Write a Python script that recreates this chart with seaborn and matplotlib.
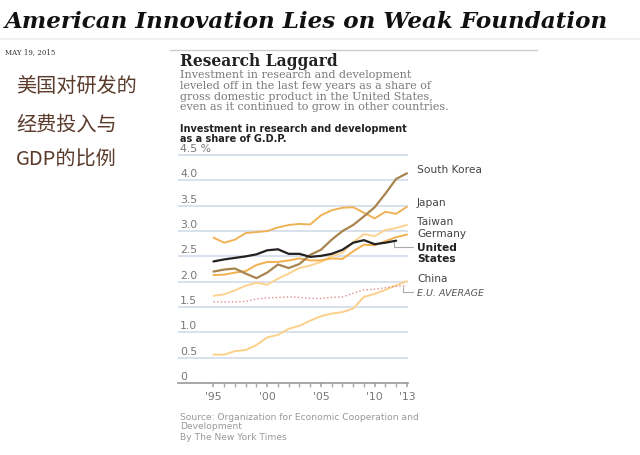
import numpy as np
import pandas as pd
import matplotlib
matplotlib.use("Agg")
import matplotlib.pyplot as plt
import seaborn as sns

sns.set_theme(style="white")
plt.rcParams['font.family'] = ['DejaVu Sans']

# Data: R&D investment as a share of GDP (%)
years = list(range(1995, 2014))
south_korea = [2.20, 2.24, 2.26, 2.16, 2.07, 2.18, 2.34, 2.27, 2.35, 2.53, 2.63,
               2.83, 3.00, 3.12, 3.29, 3.47, 3.74, 4.03, 4.14]
japan = [2.87, 2.77, 2.83, 2.96, 2.98, 3.00, 3.07, 3.12, 3.14, 3.13, 3.31,
         3.41, 3.46, 3.47, 3.36, 3.25, 3.38, 3.34, 3.48]
taiwan = [1.72, 1.75, 1.83, 1.92, 1.98, 1.94, 2.06, 2.16, 2.27, 2.32, 2.39,
          2.51, 2.57, 2.78, 2.94, 2.90, 3.02, 3.06, 3.12]
germany = [2.13, 2.14, 2.18, 2.21, 2.33, 2.39, 2.39, 2.42, 2.46, 2.42, 2.42,
           2.46, 2.45, 2.60, 2.73, 2.72, 2.80, 2.88, 2.93]
united_states = [2.40, 2.44, 2.47, 2.50, 2.54, 2.62, 2.64, 2.55, 2.55, 2.49, 2.51,
                 2.55, 2.63, 2.77, 2.82, 2.74, 2.77, 2.81, np.nan]
china = [0.56, 0.56, 0.63, 0.65, 0.75, 0.90, 0.95, 1.07, 1.13, 1.23, 1.32,
         1.37, 1.40, 1.47, 1.70, 1.76, 1.84, 1.93, 2.01]
eu_average = [1.60, 1.60, 1.60, 1.61, 1.66, 1.68, 1.69, 1.70, 1.69, 1.67, 1.67,
              1.69, 1.70, 1.77, 1.84, 1.85, 1.88, 1.91, 1.92]

y_ticks = [0, 0.5, 1.0, 1.5, 2.0, 2.5, 3.0, 3.5, 4.0, 4.5]
y_tick_labels = ['0', '0.5', '1.0', '1.5', '2.0', '2.5', '3.0', '3.5', '4.0', '4.5 %']
x_ticks = [1995, 2000, 2005, 2010, 2013]
x_tick_labels = ["'95", "'00", "'05", "'10", "'13"]

series = {
    'China': (china, '#fdd08a', '-', 1.4),
    'E.U. AVERAGE': (eu_average, '#e08a90', ':', 1.0),
    'Taiwan': (taiwan, '#fdd28f', '-', 1.4),
    'Germany': (germany, '#f2b04e', '-', 1.4),
    'Japan': (japan, '#f0b256', '-', 1.4),
    'South Korea': (south_korea, '#a8844e', '-', 1.6),
    'United States': (united_states, '#222222', '-', 1.6),
}

W, H = 640, 456
fig = plt.figure(figsize=(6.4, 4.56), dpi=100)


def fy(y):
    return 1 - y / H


def fx(x):
    return x / W


# Page header
fig.text(fx(5), fy(22), 'American Innovation Lies on Weak Foundation',
         family='DejaVu Serif', weight='bold', style='italic', fontsize=16.6,
         va='center', color='#111111')
fig.add_artist(plt.Line2D([0, 1], [fy(40), fy(40)], color='#eeeeee', lw=1.2))
fig.text(fx(5), fy(52), 'MAY 19, 2015', family='DejaVu Serif', fontsize=5,
         va='center', color='#333333')
fig.add_artist(plt.Line2D([fx(170), fx(537)], [fy(51), fy(51)], color='#cccccc', lw=1))

# Chinese caption
cn_kw = dict(family=['Noto Sans CJK SC', 'DejaVu Sans'], fontsize=14.5,
             va='center', color='#5a3b2c')
fig.text(fx(16), fy(86), '美国对研发的', **cn_kw)
fig.text(fx(16), fy(125), '经费投入与', **cn_kw)
fig.text(fx(16), fy(160), 'GDP的比例', **cn_kw)

# Graphic heading
fig.text(fx(180), fy(61), 'Research Laggard', family='DejaVu Serif', weight='bold',
         fontsize=11.2, va='center', color='#222222')
sub = ['Investment in research and development',
       'leveled off in the last few years as a share of',
       'gross domestic product in the United States,',
       'even as it continued to grow in other countries.']
for i, line in enumerate(sub):
    fig.text(fx(180), fy(75 + i * 10.8), line, family='DejaVu Serif', fontsize=8.0,
             va='center', color='#7a7a7a')
fig.text(fx(180), fy(129), 'Investment in research and development',
         weight='bold', fontsize=7.0, va='center', color='#222222')
fig.text(fx(180), fy(139.5), 'as a share of G.D.P.',
         weight='bold', fontsize=7.0, va='center', color='#222222')

# Chart
ax = fig.add_axes([fx(178), fy(384), fx(408) - fx(178), (384 - 150) / H])
for name, (vals, color, ls, lw) in series.items():
    df = pd.DataFrame({'year': years, 'value': vals}).dropna()
    sns.lineplot(data=df, x='year', y='value', ax=ax, color=color,
                 linestyle=ls, linewidth=lw)

ax.set_xlim(1991.7, 2013.1)
ax.set_ylim(0, 4.62)
for t, lab in zip(y_ticks, y_tick_labels):
    if t > 0:
        ax.axhline(t, color='#d6dfea', lw=1.3, zorder=0)
    ax.text(1991.9, t + 0.04, lab, fontsize=7.8, color='#777777', va='bottom',
            ha='left')
ax.set_yticks([])
for s in ['top', 'right', 'left']:
    ax.spines[s].set_visible(False)
ax.spines['bottom'].set_color('#999999')
ax.spines['bottom'].set_linewidth(1.2)
ax.set_xticks(x_ticks)
ax.set_xticklabels(x_tick_labels, fontsize=7.8, color='#777777')
ax.set_xticks(years, minor=True)
ax.tick_params(axis='x', which='both', direction='out', length=3, color='#aaaaaa',
               bottom=True, pad=3)
ax.set_xlabel('')
ax.set_ylabel('')

# Series labels
lab_kw = dict(fontsize=7.7, color='#444444', va='center')
fig.text(fx(417), fy(170), 'South Korea', **lab_kw)
fig.text(fx(417), fy(203), 'Japan', **lab_kw)
fig.text(fx(417), fy(222), 'Taiwan', **lab_kw)
fig.text(fx(417), fy(234), 'Germany', **lab_kw)
fig.text(fx(417), fy(248), 'United', fontsize=7.7, color='#222222', weight='bold', va='center')
fig.text(fx(417), fy(258.5), 'States', fontsize=7.7, color='#222222', weight='bold', va='center')
fig.text(fx(417), fy(279), 'China', **lab_kw)
fig.text(fx(417), fy(293), 'E.U. AVERAGE', fontsize=6.8, color='#555555',
         style='italic', va='center')
fig.add_artist(plt.Line2D([fx(394), fx(394), fx(413)], [fy(243), fy(248), fy(248)],
                          color='#aaaaaa', lw=0.8))
fig.add_artist(plt.Line2D([fx(403), fx(403), fx(413)], [fy(288), fy(293), fy(293)],
                          color='#aaaaaa', lw=0.8))

# Source
src_kw = dict(fontsize=6.6, color='#999999', va='center')
fig.text(fx(180), fy(418), 'Source: Organization for Economic Cooperation and', **src_kw)
fig.text(fx(180), fy(427), 'Development', **src_kw)
fig.text(fx(180), fy(438), 'By The New York Times', **src_kw)

fig.savefig('out.png', dpi=100)
